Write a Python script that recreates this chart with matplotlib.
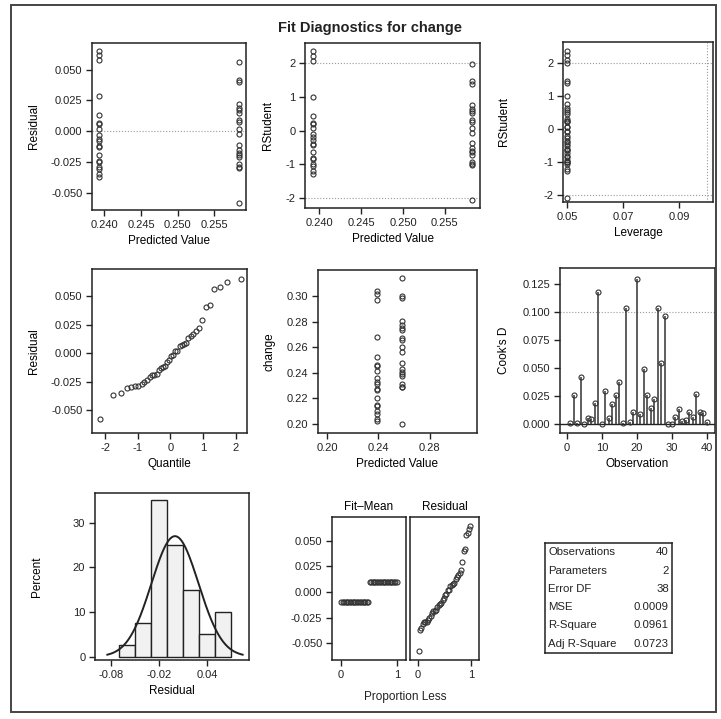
import math
import matplotlib
matplotlib.use("Agg")
import matplotlib.pyplot as plt
import numpy as np
from matplotlib.patches import Rectangle

#%% data (observation order)

# observed response; obs 1-20 are x = 0, obs 21-40 are x = 1
change = np.array([0.2332, 0.2682, 0.2452, 0.2022, 0.2412, 0.2522, 0.2272, 0.2142,
                   0.3012, 0.2362, 0.2082, 0.2262, 0.2152, 0.2102, 0.2042, 0.2462,
                   0.2972, 0.2312, 0.2202, 0.3042,
                   0.2753, 0.2983, 0.2293, 0.2803, 0.2313, 0.2003, 0.3003, 0.3143,
                   0.2603, 0.2563, 0.2433, 0.2373, 0.2673, 0.2473, 0.2393, 0.2733,
                   0.2288, 0.2773, 0.2403, 0.2658])
xgroup = np.array([0] * 20 + [1] * 20)

stat_names = ["Observations", "Parameters", "Error DF", "MSE", "R-Square", "Adj R-Square"]
stat_vals = ["40", "2", "38", "0.0009", "0.0961", "0.0723"]

#%% regression diagnostics

n = len(change)
p = 2
X = np.column_stack([np.ones(n), xgroup])
beta = np.linalg.lstsq(X, change, rcond=None)[0]
pred = X @ beta
resid = change - pred
lev = np.diag(X @ np.linalg.inv(X.T @ X) @ X.T)
sse = np.sum(resid**2)
mse = sse / (n - p)
s_i = np.sqrt((sse - resid**2 / (1 - lev)) / (n - p - 1))
rstud = resid / (s_i * np.sqrt(1 - lev))
cooks = resid**2 / (p * mse) * lev / (1 - lev)**2
obs = np.arange(1, n + 1)

# normal quantiles (Blom) by inverting the normal cdf on a grid
r_sorted = np.sort(resid)
blom = (np.arange(1, n + 1) - 0.375) / (n + 0.25)
zgrid = np.linspace(-4, 4, 80001)
cdf = 0.5 * (1 + np.array([math.erf(z / math.sqrt(2)) for z in zgrid]))
qq_x = np.interp(blom, cdf, zgrid)

fit_mean = np.sort(pred - change.mean())
prop = (np.arange(1, n + 1) - 0.5) / n

#%% figure

plt.rcParams['font.family'] = ['Liberation Sans', 'DejaVu Sans']
plt.rcParams['font.size'] = 8
plt.rcParams['axes.unicode_minus'] = False
W, H = 721, 719
fig = plt.figure(figsize=(W / 100, H / 100), dpi=100)
fig.patch.set_facecolor('white')

def rect(l, t, r, b):
    return [l / W, 1 - b / H, (r - l) / W, (b - t) / H]

mk = dict(ls='none', marker='o', ms=3.6, mfc='none', mec='#333333', mew=0.8)
ref = dict(color='#9a9a9a', lw=0.8, ls=':')

def style(ax):
    for s in ax.spines.values():
        s.set_linewidth(1.1)
        s.set_color('#222222')
    ax.tick_params(direction='out', length=4, width=1, labelsize=8, colors='#222222', pad=3)

def ylab(ax, txt, xpix, l, r):
    # place the y label at a fixed pixel column
    ax.set_ylabel(txt, fontsize=8.5)
    ax.yaxis.set_label_coords((xpix - l) / (r - l), 0.5)

# frame round the whole panel
fig.add_artist(Rectangle((11 / W, 1 - 712 / H), 705 / W, 707 / H, transform=fig.transFigure,
                         fill=False, lw=1.4, ec='#444444'))
fig.text(370 / W, 1 - 28 / H, "Fit Diagnostics for change", ha='center', va='center',
         fontsize=10.5, fontweight='bold', color='#222222')

# residual by predicted
ax = fig.add_axes(rect(92, 43, 246, 210))
ax.axhline(0, **ref)
ax.plot(pred, resid, **mk)
ax.set_xlim(0.2383, 0.2593)
ax.set_ylim(-0.064, 0.0717)
ax.set_xticks([0.240, 0.245, 0.250, 0.255])
ax.set_yticks([-0.05, -0.025, 0, 0.025, 0.05])
ax.set_yticklabels(["-0.050", "-0.025", "0.000", "0.025", "0.050"])
ax.set_xlabel("Predicted Value", fontsize=8.5)
ylab(ax, "Residual", 40, 92, 246)
style(ax)

# rstudent by predicted
ax = fig.add_axes(rect(305, 43, 480, 208))
ax.axhline(2, **ref)
ax.axhline(-2, **ref)
ax.plot(pred, rstud, **mk)
ax.set_xlim(0.2383, 0.2592)
ax.set_ylim(-2.3, 2.6)
ax.set_xticks([0.240, 0.245, 0.250, 0.255])
ax.set_yticks([-2, -1, 0, 1, 2])
ax.set_xlabel("Predicted Value", fontsize=8.5)
ylab(ax, "RStudent", 274, 305, 480)
style(ax)

# rstudent by leverage
ax = fig.add_axes(rect(563, 42, 713, 202))
ax.axhline(2, **ref)
ax.axhline(-2, **ref)
ax.axvline(2 * p / n, **ref)
ax.plot(lev, rstud, **mk)
ax.set_xlim(0.0486, 0.1021)
ax.set_ylim(-2.2, 2.62)
ax.set_xticks([0.05, 0.07, 0.09])
ax.set_yticks([-2, -1, 0, 1, 2])
ax.set_xlabel("Leverage", fontsize=8.5)
ylab(ax, "RStudent", 510, 563, 713)
style(ax)

# normal quantile plot
ax = fig.add_axes(rect(92, 269, 247, 433))
ax.plot(qq_x, r_sorted, **mk)
ax.set_xlim(-2.4, 2.35)
ax.set_ylim(-0.070, 0.0736)
ax.set_xticks([-2, -1, 0, 1, 2])
ax.set_yticks([-0.05, -0.025, 0, 0.025, 0.05])
ax.set_yticklabels(["-0.050", "-0.025", "0.000", "0.025", "0.050"])
ax.set_xlabel("Quantile", fontsize=8.5)
ylab(ax, "Residual", 40, 92, 247)
style(ax)

# observed by predicted
ax = fig.add_axes(rect(318, 270, 477, 433))
ax.plot(pred, change, **mk)
ax.set_xlim(0.193, 0.3166)
ax.set_ylim(0.193, 0.3203)
ax.set_xticks([0.20, 0.24, 0.28])
ax.set_yticks([0.20, 0.22, 0.24, 0.26, 0.28, 0.30])
ax.set_xlabel("Predicted Value", fontsize=8.5)
ylab(ax, "change", 275, 318, 477)
style(ax)

# cook's d
ax = fig.add_axes(rect(560, 268, 715, 433))
ax.axhline(4 / n, **ref)
ax.axhline(0, color='#222222', lw=1)
ax.vlines(obs, 0, cooks, color='#333333', lw=1.1)
ax.plot(obs, cooks, **mk)
ax.set_xlim(-2, 42.3)
ax.set_ylim(-0.0078, 0.1396)
ax.set_xticks([0, 10, 20, 30, 40])
ax.set_yticks([0, 0.025, 0.05, 0.075, 0.1, 0.125])
ax.set_yticklabels(["0.000", "0.025", "0.050", "0.075", "0.100", "0.125"])
ax.set_xlabel("Observation", fontsize=8.5)
ylab(ax, "Cook's D", 510, 560, 715)
style(ax)

# histogram with normal curve
ax = fig.add_axes(rect(95, 493, 249, 660))
edges = np.arange(-0.07, 0.0701, 0.02)
ax.hist(resid, bins=edges, weights=np.full(n, 100 / n), color='#f1f1f1',
        edgecolor='#222222', lw=1)
sd = resid.std(ddof=1)
xx = np.linspace(-0.085, 0.085, 300)
ax.plot(xx, 100 * 0.02 * np.exp(-0.5 * (xx / sd)**2) / (sd * np.sqrt(2 * np.pi)),
        color='#222222', lw=1.4)
ax.set_xlim(-0.1005, 0.093)
ax.set_ylim(-0.75, 36.6)
ax.set_xticks([-0.08, -0.02, 0.04])
ax.set_yticks([0, 10, 20, 30])
ax.set_xlabel("Residual", fontsize=8.5)
ylab(ax, "Percent", 43, 95, 249)
style(ax)

# residual-fit spread plot
ax1 = fig.add_axes(rect(332, 517, 406, 660))
ax2 = fig.add_axes(rect(410, 517, 479, 660))
ax1.plot(prop, fit_mean, **mk)
ax2.plot(prop, r_sorted, **mk)
for a, ttl in [(ax1, "Fit\u2013Mean"), (ax2, "Residual")]:
    a.set_xlim(-0.15, 1.15)
    a.set_ylim(-0.0666, 0.0734)
    a.set_xticks([0, 1])
    a.set_title(ttl, fontsize=8.5, pad=5)
    style(a)
ax1.set_yticks([-0.05, -0.025, 0, 0.025, 0.05])
ax1.set_yticklabels(["-0.050", "-0.025", "0.000", "0.025", "0.050"])
ax2.set_yticks([-0.05, -0.025, 0, 0.025, 0.05])
ax2.set_yticklabels([])
ax2.tick_params(axis='y', length=0)
fig.text(405 / W, 1 - 697 / H, "Proportion Less", ha='center', va='center', fontsize=8.5,
         color='#222222')

# fit statistics box
tb = fig.add_axes(rect(545, 543, 672, 653))
tb.set_xlim(0, 1)
tb.set_ylim(len(stat_names), 0)
tb.set_xticks([])
tb.set_yticks([])
for s in tb.spines.values():
    s.set_linewidth(1.1)
    s.set_color('#222222')
for i, (nm, v) in enumerate(zip(stat_names, stat_vals)):
    tb.text(0.025, i + 0.5, nm, ha='left', va='center', fontsize=8.2, color='#222222')
    tb.text(0.975, i + 0.5, v, ha='right', va='center', fontsize=8.2, color='#222222')

fig.savefig("out.png", dpi=100)
